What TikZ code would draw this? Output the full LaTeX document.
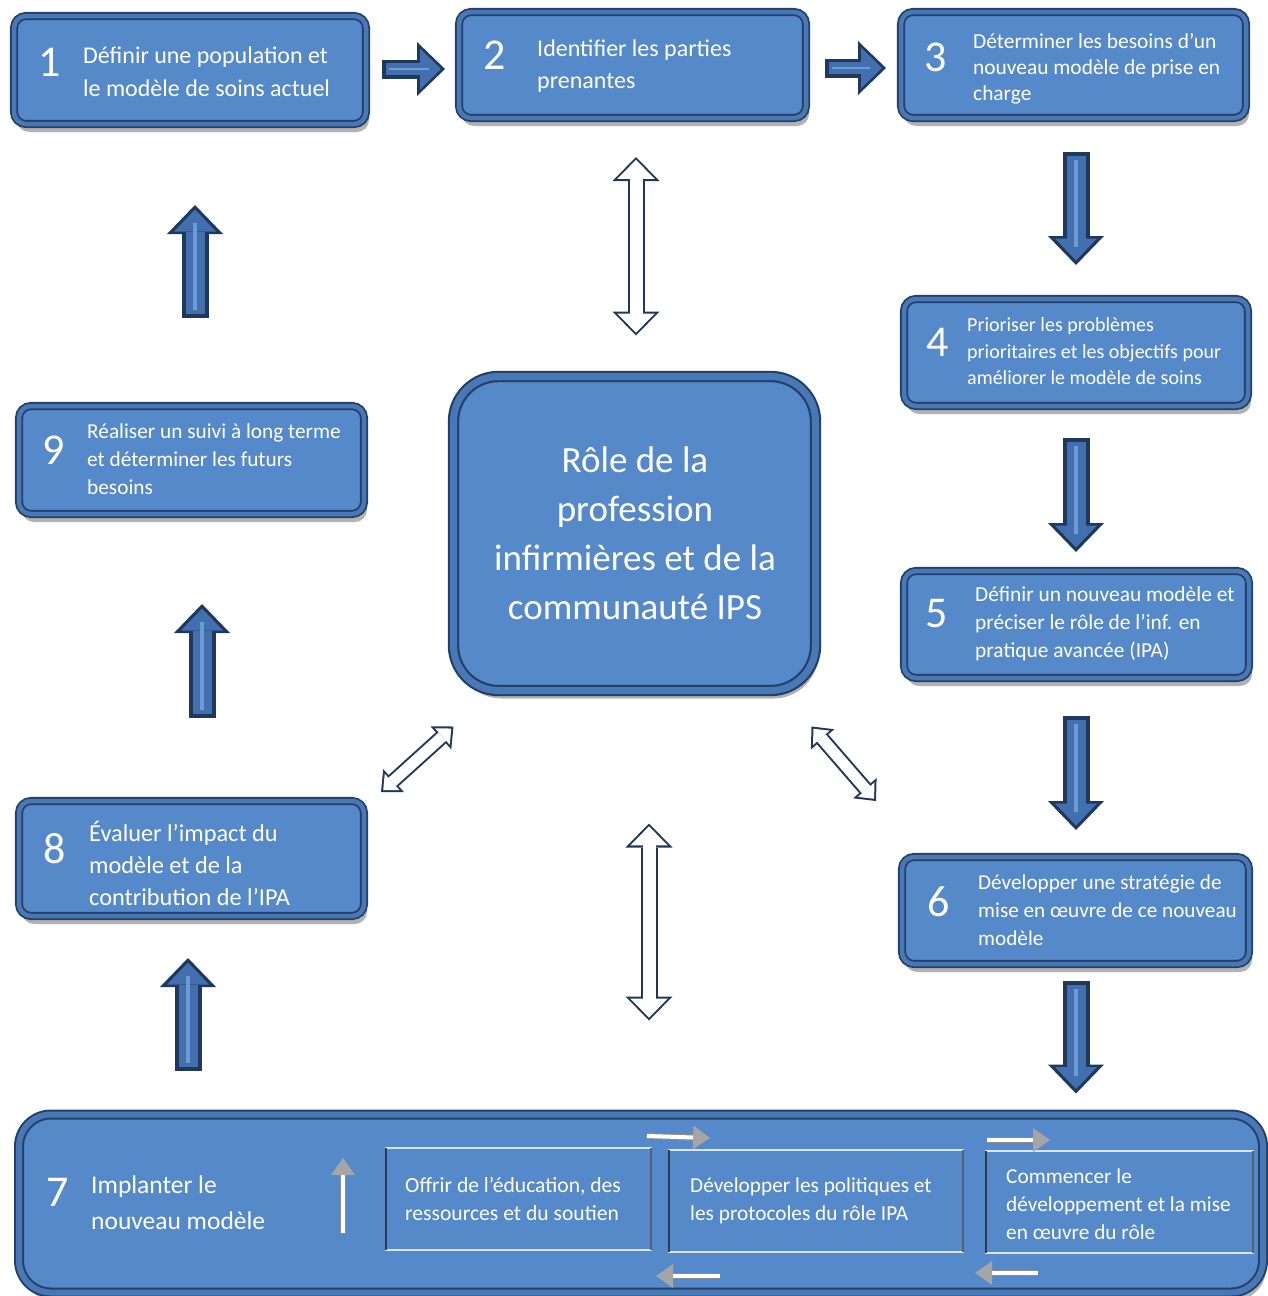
\documentclass[tikz,border=0pt]{standalone}
\usepackage{fontspec}
\setmainfont{Carlito}
\usetikzlibrary{arrows.meta,calc,shadows}
\definecolor{boxfill}{RGB}{85,137,201}
\definecolor{bdark}{RGB}{36,64,104}
\definecolor{bband}{RGB}{72,120,182}
\definecolor{adark}{RGB}{30,56,94}
\definecolor{amid}{RGB}{66,112,175}
\definecolor{alight}{RGB}{110,155,214}
\definecolor{odark}{RGB}{31,56,90}
\definecolor{sgray}{RGB}{140,140,140}
\definecolor{shead}{RGB}{165,165,165}
\definecolor{inedge}{RGB}{222,228,236}
\definecolor{indark}{RGB}{45,58,80}
\newcommand\fsz[2]{\fontsize{#1}{#2}\selectfont}
\newcommand\harrow[2]{\draw[hA1] #1 -- #2; \draw[hA2] #1 -- #2; \draw[hA3] #1 -- #2;}
\newcommand\varrow[2]{\draw[vA1] #1 -- #2; \draw[vA2] #1 -- #2; \draw[vA3] #1 -- #2;}
\newcommand\darrow[2]{\draw[dA1] #1 -- #2; \draw[dA2] #1 -- #2;}
\newcommand\sarrow[2]{\draw[sA1] #1 -- #2; \draw[sA2] #1 -- #2;}
\begin{document}
\begin{tikzpicture}[x=1pt,y=-1pt,
 box/.style={rounded corners=12pt, fill=boxfill, draw=bdark, line width=1.8pt,
   double=bband, double distance=4.5pt,
   drop shadow={shadow xshift=3pt,shadow yshift=-8pt,opacity=0.3,fill=black},
   inner sep=0pt, outer sep=0pt},
 bigbox/.style={box, rounded corners=45pt, line width=2.2pt, double distance=7pt},
 inbox/.style={draw=inedge, line width=2pt, fill=boxfill, inner sep=0pt, outer sep=0pt},
 txt/.style={text=white, align=left, inner sep=0pt, anchor=west},
 num/.style={text=white, font=\fsz{44}{44}, inner sep=0pt},
 hA1/.style={line width=19pt, draw=adark, -{Triangle[width=54pt,length=28pt,line width=0pt]}},
 hA2/.style={line width=12pt, draw=amid, shorten >=4pt, shorten <=3.5pt, -{Triangle[width=41pt,length=21pt,line width=0pt]}},
 hA3/.style={line width=2.5pt, draw=alight, shorten >=16pt, shorten <=7pt},
 vA1/.style={line width=27pt, draw=adark, -{Triangle[width=56pt,length=29pt,line width=0pt]}},
 vA2/.style={line width=19pt, draw=amid, shorten >=4.5pt, shorten <=4pt, -{Triangle[width=42pt,length=22pt,line width=0pt]}},
 vA3/.style={line width=4pt, draw=alight, shorten >=18pt, shorten <=8pt},
 dA1/.style={line width=17pt, draw=odark, {Triangle[width=47pt,length=24pt,line width=0pt]}-{Triangle[width=47pt,length=24pt,line width=0pt]}},
 dA2/.style={line width=13pt, draw=white, shorten >=2.9pt, shorten <=2.9pt, {Triangle[width=37.5pt,length=19pt,line width=0pt]}-{Triangle[width=37.5pt,length=19pt,line width=0pt]}},
 dB1/.style={line width=15pt, draw=odark, {Triangle[width=31pt,length=17pt,line width=0pt]}-{Triangle[width=31pt,length=17pt,line width=0pt]}},
 dB2/.style={line width=11pt, draw=white, shorten >=3pt, shorten <=3pt, {Triangle[width=22pt,length=12pt,line width=0pt]}-{Triangle[width=22pt,length=12pt,line width=0pt]}},
 sA1/.style={line width=6.5pt, draw=sgray, shorten >=12pt},
 sA2/.style={line width=4pt, draw=white, -{Triangle[width=24pt,length=17pt,line width=0pt,color=shead]}},
]
\useasboundingbox (0,0) rectangle (1268,1296);

% boxes
\node[box, minimum width=352pt, minimum height=108pt] (b1) at (190,70) {};
\node[box, minimum width=347pt, minimum height=106pt] (b2) at (632.5,65) {};
\node[box, minimum width=345pt, minimum height=106pt] (b3) at (1073.5,65) {};
\node[box, minimum width=344pt, minimum height=107pt] (b4) at (1076,352.5) {};
\node[box, minimum width=345pt, minimum height=107pt] (b5) at (1076.5,624.5) {};
\node[box, minimum width=347pt, minimum height=107pt] (b6) at (1075.5,910.5) {};
\node[box, minimum width=345pt, minimum height=108pt] (b9) at (191.5,460) {};
\node[box, minimum width=345pt, minimum height=115pt] (b8) at (191.5,858.5) {};
\node[bigbox, minimum width=362pt, minimum height=314pt] (c) at (634.5,533.5) {};
\node[box, rounded corners=32pt, line width=2pt, double distance=6pt, minimum width=1244pt, minimum height=178pt] (b7) at (641,1203.5) {};

% inner boxes of step 7
\node[inbox, minimum width=265pt, minimum height=102pt] (ia) at (518.5,1199) {};
\node[inbox, minimum width=294pt, minimum height=102pt] (ib) at (816,1201) {};
\node[inbox, minimum width=267pt, minimum height=102pt] (ic) at (1119.5,1202) {};
\foreach \n in {ia,ib,ic}{
  \draw[indark, line width=1.6pt] (\n.north west) -- (\n.south west);
  \draw[indark!80, line width=1.6pt] (\n.north east) -- (\n.south east);
}

% numbers and texts
\node[num] (n1) at (50,62) {1};
\node[txt, font=\fsz{24}{33}] (t1) at (83,71.5) {Définir une population et\\le modèle de soins actuel};
\node[num] (n2) at (495,55) {2};
\node[txt, font=\fsz{24}{32}] (t2) at (537,66) {Identifier les parties\\prenantes};
\node[num] (n3) at (936,57) {3};
\node[txt, font=\fsz{21.4}{26}] (t3) at (973,69) {Déterminer les besoins d’un\\nouveau modèle de prise en\\charge};
\node[num] (n4) at (938,342) {4};
\node[txt, font=\fsz{20}{26.5}] (t4) at (967,351.5) {Prioriser les problèmes\\prioritaires et les objectifs pour\\améliorer le modèle de soins};
\node[num] (n5) at (937,614) {5};
\node[txt, font=\fsz{21.4}{28}] (t5) at (975,624) {Définir un nouveau modèle et\\préciser le rôle de l’inf. en\\pratique avancée (IPA)};
\node[num] (n6) at (939,902) {6};
\node[txt, font=\fsz{21.2}{28}] (t6) at (978,910) {Développer une stratégie de\\mise en œuvre de ce nouveau\\modèle};
\node[num] (n9) at (54,450) {9};
\node[txt, font=\fsz{21.3}{28}] (t9) at (87,459) {Réaliser un suivi à long terme\\et déterminer les futurs\\besoins};
\node[num] (n8) at (55,849) {8};
\node[txt, font=\fsz{24.3}{32}] (t8) at (89,863) {Évaluer l’impact du\\modèle et de la\\contribution de l’IPA};
\node[text=white, align=center, inner sep=0pt, font=\fsz{37}{49}] (tc) at (635,533.5) {Rôle de la\\profession\\infirmières et de la\\communauté IPS};
\node[num] (n7) at (58,1192) {7};
\node[txt, font=\fsz{25.5}{36}] (t7) at (91,1202.5) {Implanter le\\nouveau modèle};
\node[txt, font=\fsz{21.6}{28}] (ta) at (405,1199) {Offrir de l’éducation, des\\ressources et du soutien};
\node[txt, font=\fsz{21.3}{28}] (tb) at (690,1201) {Développer les politiques et\\les protocoles du rôle IPA};
\node[txt, font=\fsz{21.3}{28}] (tcc) at (1006,1204) {Commencer le\\développement et la mise\\en œuvre du rôle};

% block arrows
\harrow{($(b1.east)+(16,-1)$)}{($(b2.west |- b1.east)+(-14,-1)$)}
\harrow{($(b2.east)+(19,3)$)}{($(b3.west |- b2.east)+(-15,3)$)}
\varrow{($(b3.south)+(2.5,34)$)}{($(b4.north)+(0,-34)$)}
\varrow{($(b4.south)+(0,32)$)}{($(b5.north -| b4.south)+(0,-19)$)}
\varrow{($(b5.south)+(-0.5,38)$)}{($(b6.north -| b5.south)+(-0.5,-27)$)}
\varrow{($(b6.south)+(0.5,17)$)}{($(b7.north -| b6.south)+(0.5,-21)$)}
\varrow{($(b7.north -| b8.south)+(-3.5,-44)$)}{($(b8.south)+(-3.5,42)$)}
\varrow{($(b8.north)+(10.5,-83)$)}{($(b9.south)+(10.5,90)$)}
\varrow{($(b9.north -| b1.south)+(5,-88)$)}{($(b1.south)+(5,81)$)}

% double-headed outline arrows
\darrow{($(b2.south)+(3.5,39)$)}{($(b2.south |- c.north)+(3.5,-41)$)}
\darrow{($(c.south)+(14.5,133)$)}{($(c.south |- b7.north)+(14.5,-94)$)}
\draw[dB1] ($(c.south west)+(0,36)$) -- ($(b8.north east)+(17,-9)$);
\draw[dB2] ($(c.south west)+(0,36)$) -- ($(b8.north east)+(17,-9)$);
\draw[dB1] ($(c.south east)+(-4,36)$) -- ($(b6.north west)+(-26,-56)$);
\draw[dB2] ($(c.south east)+(-4,36)$) -- ($(b6.north west)+(-26,-56)$);

% silver arrows inside step 7
\sarrow{($(ia.west)+(-43,34)$)}{($(ia.west)+(-43,-41)$)}
\sarrow{($(ia.north east)+(-4,-12)$)}{($(ib.north west)+(41,-12)$)}
\sarrow{($(ib.north east)+(24,-10)$)}{($(ic.north west)+(64,-11)$)}
\sarrow{($(ib.south west)+(51,24)$)}{($(ib.south west)+(-13,24)$)}
\sarrow{($(ic.south west)+(52,20)$)}{($(ic.south west)+(-11,20)$)}
\end{tikzpicture}
\end{document}
